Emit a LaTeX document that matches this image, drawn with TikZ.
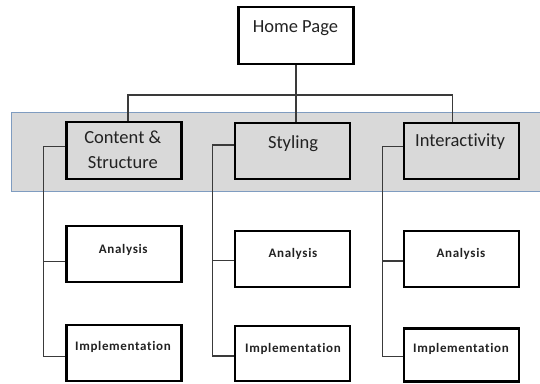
\documentclass[tikz,border=0pt]{standalone}
\usepackage{fontspec}
\setmainfont[Ligatures={NoCommon,NoContextual}]{Carlito}
\newfontfamily\leaffont[Ligatures={NoCommon,NoContextual},LetterSpace=5]{Carlito}
\definecolor{bandfill}{HTML}{D9D9D9}
\definecolor{bandline}{HTML}{7F9CC0}
\definecolor{linkcol}{HTML}{3A3A3A}
\definecolor{txtcol}{HTML}{222222}
\tikzset{
  box/.style={draw=black, line width=2.2pt, minimum width=115pt, inner sep=0pt},
  topbox/.style={box, fill=bandfill},
  leafbox/.style={box, fill=white},
  big/.style={font=\fontsize{18.5}{22}\selectfont, text=txtcol, align=center, inner sep=0pt},
  small/.style={font=\leaffont\fontsize{13}{16}\selectfont\bfseries, text=txtcol, inner sep=0pt},
  link/.style={draw=linkcol, line width=1.2pt},
}
\begin{document}
\begin{tikzpicture}[x=1pt, y=-1pt]
\useasboundingbox (0,0) rectangle (540,383);
% highlighted band behind the second level
\fill[bandfill] (11,112) rectangle (545,191);
\draw[bandline, line width=1pt] (545,112) -- (11,112) -- (11,191) -- (545,191);

% boxes
\node[box, fill=white, minimum height=57pt] (home) at (296,35.7) {};
\node[topbox, minimum height=57pt] (cs) at (124,150.3) {};
\node[topbox, minimum height=56pt] (st) at (292.4,151.2) {};
\node[topbox, minimum height=56pt] (ia) at (461.1,151.2) {};
\node[leafbox, minimum height=56pt] (csa) at (124,254) {};
\node[leafbox, minimum height=56pt] (sta) at (292.4,259) {};
\node[leafbox, minimum height=56pt] (iaa) at (461.1,259.3) {};
\node[leafbox, minimum height=56pt] (csi) at (124,353) {};
\node[leafbox, minimum height=55pt] (sti) at (292.4,353.8) {};
\node[leafbox, minimum height=53pt] (iai) at (461.1,355) {};

% labels
\node[big] (homet) at (295.4,28.5) {Home Page};
\node[big] (cst) at (122.8,149.5) {Content \&\\[3pt]Structure};
\node[big] (stt) at (293,144) {Styling};
\node[big] (iat) at (460,142) {Interactivity};
\node[small] (csat) at (123.3,249.5) {Analysis};
\node[small] (stat) at (293,253.5) {Analysis};
\node[small] (iaat) at (461,253.5) {Analysis};
\node[small] (csit) at (123,347) {Implementation};
\node[small] (stit) at (293,348.5) {Implementation};
\node[small] (iait) at (461,348.5) {Implementation};

% first level connectors
\coordinate (busl) at (128,95);
\coordinate (busr) at (452.5,95);
\draw[link] (cs.north -| busl) -- (busl) -- (busr) -- (ia.north -| busr);
\draw[link] (home.south) -- (home.south |- st.north);

% second level connectors
\coordinate (s1a) at (43.4,146.7);
\coordinate (s1b) at (43.4,261.3);
\coordinate (s1c) at (43.4,356.7);
\draw[link] (cs.west |- s1a) -- (s1a) -- (s1c) -- (csi.west |- s1c);
\draw[link] (s1b) -- (csa.west |- s1b);

\coordinate (s2a) at (212.5,145);
\coordinate (s2b) at (212.5,260.7);
\coordinate (s2c) at (212.5,356);
\draw[link] (st.west |- s2a) -- (s2a) -- (s2c) -- (sti.west |- s2c);
\draw[link] (s2b) -- (sta.west |- s2b);

\coordinate (s3a) at (382.2,146.7);
\coordinate (s3b) at (382.2,261);
\coordinate (s3c) at (382.2,356.7);
\draw[link] (ia.west |- s3a) -- (s3a) -- (s3c) -- (iai.west |- s3c);
\draw[link] (s3b) -- (iaa.west |- s3b);
\end{tikzpicture}
\end{document}
